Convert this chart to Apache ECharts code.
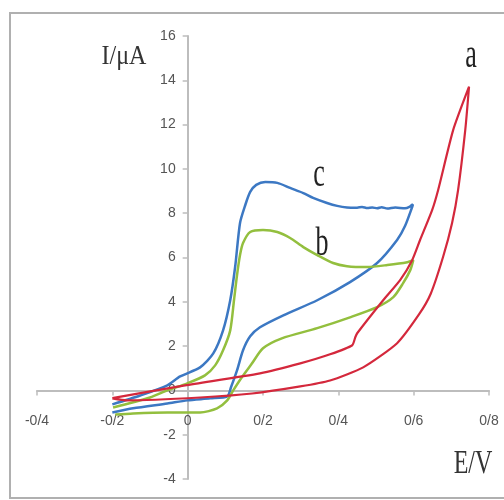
<!DOCTYPE html>
<html>
<head>
<meta charset="utf-8">
<script src="https://cdn.jsdelivr.net/npm/echarts@6/dist/echarts.min.js"></script>
<style>
html,body{margin:0;padding:0;background:#fff;}
#main{width:504px;height:500px;}
</style>
</head>
<body>
<div id="main"></div>
<script>
// Tick labels (Persian-style decimal separator "/")
const xTickLabels = ['-0/4', '-0/2', '0', '0/2', '0/4', '0/6', '0/8'];
const yTickLabels = ['-4', '-2', '0', '2', '4', '6', '8', '10', '12', '14', '16'];

// Curve a (red): potential E (V) and current I (µA), one closed loop
const curveA_E = [-0.2, -0.007, 0.192, 0.299, 0.378, 0.437, 0.445, 0.45, 0.519, 0.564, 0.596, 0.617, 0.649, 0.665, 0.705, 0.747,
                  0.737, 0.718, 0.702, 0.678, 0.645, 0.615, 0.556, 0.466, 0.378, 0.299, 0.171, 0.033, -0.161, -0.2];
const curveA_I = [-0.35, 0.23, 0.77, 1.22, 1.63, 2.04, 2.4, 2.58, 4.07, 4.98, 5.88, 6.79, 8.14, 9.05, 11.76, 13.71,
                  11.76, 9.05, 7.56, 6.02, 4.35, 3.45, 2.13, 1.04, 0.45, 0.18, -0.14, -0.32, -0.45, -0.36];

// Curve b (green)
const curveB_E = [-0.192, -0.145, -0.054, 0.033, 0.078, 0.105, 0.121, 0.142, 0.17, 0.2, 0.25, 0.344, 0.431, 0.503, 0.546, 0.572, 0.591, 0.599,
                  0.583, 0.53, 0.477, 0.423, 0.386, 0.344, 0.307, 0.272, 0.238, 0.2, 0.166, 0.147, 0.139, 0.131, 0.123, 0.113, 0.094, 0.073, 0.046, -0.001, -0.054, -0.1, -0.198];
const curveB_I = [-1.09, -1.04, -1.0, -1.0, -0.81, -0.45, 0.0, 0.55, 1.2, 1.9, 2.35, 2.81, 3.3, 3.76, 4.21, 4.84, 5.43, 5.88,
                  5.79, 5.66, 5.57, 5.61, 5.75, 6.11, 6.47, 6.88, 7.15, 7.24, 7.15, 6.65, 6.11, 5.2, 4.07, 2.71, 1.81, 1.13, 0.68, 0.32, 0.0, -0.32, -0.77];

// Curve c (blue)
const curveC_E = [-0.2, -0.145, -0.054, -0.001, 0.06, 0.105, 0.115, 0.131, 0.147, 0.166, 0.192, 0.254, 0.344, 0.431, 0.503, 0.556, 0.577, 0.596,
                  0.598, 0.59, 0.577, 0.551, 0.53, 0.515, 0.503, 0.49, 0.477, 0.463, 0.45, 0.423, 0.397, 0.37, 0.333, 0.307, 0.272, 0.238, 0.206, 0.182, 0.166, 0.153, 0.139, 0.126, 0.113, 0.094, 0.068, 0.033, -0.02, -0.054, -0.126, -0.2];
const curveC_I = [-1.0, -0.81, -0.59, -0.45, -0.36, -0.27, 0.14, 0.9, 1.81, 2.44, 2.85, 3.39, 4.07, 4.89, 5.75, 6.79, 7.42, 8.28,
                  8.4, 8.3, 8.22, 8.26, 8.21, 8.27, 8.22, 8.26, 8.23, 8.28, 8.25, 8.26, 8.33, 8.46, 8.69, 8.91, 9.14, 9.37, 9.41, 9.28, 8.96, 8.37, 7.56, 5.57, 4.07, 2.71, 1.67, 1.04, 0.63, 0.23, -0.23, -0.63];

function pairs(xs, ys) { return xs.map((x, i) => [x, ys[i]]); }

const chart = echarts.init(document.getElementById('main'), null, {renderer: 'canvas'});
const tickFont = '"Liberation Sans Narrow", "Liberation Sans", Arial, sans-serif';
const serif = '"Liberation Serif", "Times New Roman", serif';
const axisGray = '#bdbdbd';

const gridLeft = 37, gridRight = 15, gridTop = 36, gridBottom = 21;
const xMin = -0.4, xMax = 0.8, yMin = -4, yMax = 16;
const plotW = 504 - gridLeft - gridRight, plotH = 500 - gridTop - gridBottom;
// shift axes so that they cross at the origin, labels included
const yAxisOffset = -((0 - xMin) / (xMax - xMin)) * plotW;
const xAxisOffset = -((0 - yMin) / (yMax - yMin)) * plotH;

chart.setOption({
  backgroundColor: '#ffffff',
  animation: false,
  grid: {left: gridLeft, right: gridRight, top: gridTop, bottom: gridBottom, containLabel: false},
  xAxis: {
    type: 'value', min: xMin, max: xMax, interval: 0.2,
    position: 'bottom', offset: xAxisOffset,
    axisLine: {onZero: false, lineStyle: {color: axisGray, width: 2}},
    axisTick: {show: true, length: 5, lineStyle: {color: axisGray, width: 1.5}},
    splitLine: {show: false},
    axisLabel: {
      margin: 24, color: '#555', fontSize: 14, fontFamily: tickFont,
      formatter: (v, i) => xTickLabels[i]
    }
  },
  yAxis: {
    type: 'value', min: yMin, max: yMax, interval: 2,
    position: 'left', offset: yAxisOffset,
    axisLine: {onZero: false, lineStyle: {color: axisGray, width: 2}},
    axisTick: {show: true, length: 5, lineStyle: {color: axisGray, width: 1.5}},
    splitLine: {show: false},
    axisLabel: {
      margin: 12, color: '#555', fontSize: 14, fontFamily: tickFont,
      formatter: (v, i) => yTickLabels[i]
    }
  },
  series: [
    {name: 'c', type: 'line', data: pairs(curveC_E, curveC_I), showSymbol: false, smooth: 0.25,
     lineStyle: {color: '#3c78c3', width: 2.5}},
    {name: 'b', type: 'line', data: pairs(curveB_E, curveB_I), showSymbol: false, smooth: 0.25,
     lineStyle: {color: '#93bf3e', width: 2.5}},
    {name: 'a', type: 'line', data: pairs(curveA_E, curveA_I), showSymbol: false, smooth: 0.2,
     lineStyle: {color: '#d4283c', width: 2.2}}
  ],
  graphic: [
    {type: 'rect', shape: {x: 10, y: 13, width: 520, height: 485}, style: {fill: 'none', stroke: '#b0b0b0', lineWidth: 2}, z: -1},
    {type: 'text', x: 124, y: 57, scaleY: 1.15, style: {text: 'I/\u03bcA', font: '24px ' + serif, fill: '#333', align: 'center', verticalAlign: 'middle'}},
    {type: 'text', x: 473, y: 464, scaleY: 1.4, style: {text: 'E/V', font: '24px ' + serif, fill: '#333', align: 'center', verticalAlign: 'middle'}},
    {type: 'text', x: 471, y: 57, scaleY: 1.5, style: {text: 'a', font: '26px ' + serif, fill: '#222', align: 'center', verticalAlign: 'middle'}},
    {type: 'text', x: 322, y: 245, scaleY: 1.5, style: {text: 'b', font: '26px ' + serif, fill: '#222', align: 'center', verticalAlign: 'middle'}},
    {type: 'text', x: 319, y: 176, scaleY: 1.5, style: {text: 'c', font: '26px ' + serif, fill: '#222', align: 'center', verticalAlign: 'middle'}}
  ]
});
</script>
</body>
</html>
